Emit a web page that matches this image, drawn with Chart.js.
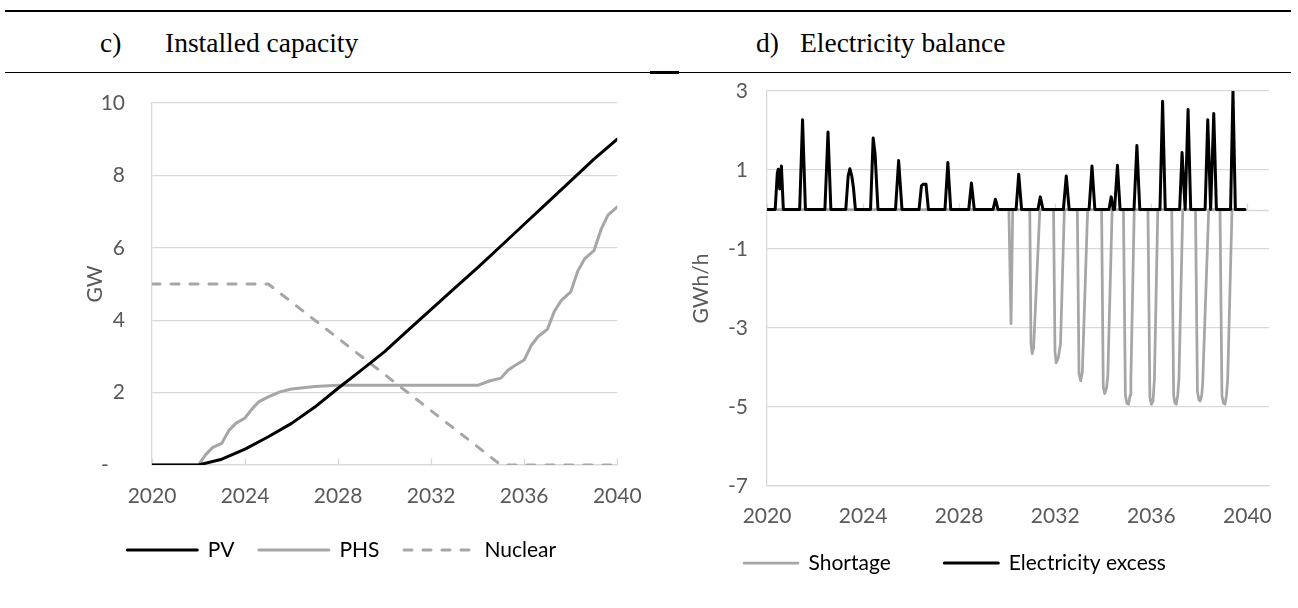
<!DOCTYPE html>
<html><head><meta charset="utf-8">
<script src="https://cdn.jsdelivr.net/npm/chart.js@4.4.1/dist/chart.umd.min.js"></script>
<style>
html,body{margin:0;padding:0;background:#fff;}
body{width:1298px;height:608px;position:relative;overflow:hidden;}
.rule{position:absolute;background:#000;}
.ttl{position:absolute;font-family:"Liberation Serif","Times New Roman",serif;font-size:27.5px;line-height:30px;color:#000;white-space:pre;}
canvas{position:absolute;top:0;}
</style></head><body>
<div class="rule" style="left:5px;top:10px;width:1286px;height:2px"></div>
<div class="rule" style="left:5px;top:72px;width:1286px;height:1px"></div>
<div class="rule" style="left:650px;top:71px;width:29px;height:3px"></div>
<div class="ttl" style="left:100px;top:28px">c)</div>
<div class="ttl" style="left:165px;top:28px">Installed capacity</div>
<div class="ttl" style="left:756px;top:28px">d)</div>
<div class="ttl" style="left:800px;top:28px">Electricity balance</div>
<canvas id="cap" width="660" height="608" style="left:0"></canvas>
<canvas id="bal" width="638" height="608" style="left:660px"></canvas>
<script>
// ---------- data: c) Installed capacity (GW) ----------
const capTicksX = [2020, 2024, 2028, 2032, 2036, 2040];
const capTicksY = [0, 2, 4, 6, 8, 10];
const pvYears = [2020, 2022, 2023, 2024, 2025, 2026, 2027, 2028, 2029, 2030, 2031, 2032, 2033, 2034, 2035, 2036, 2037, 2038, 2039, 2040];
const pvGW    = [0, 0, 0.16, 0.44, 0.78, 1.15, 1.6, 2.12, 2.62, 3.13, 3.72, 4.3, 4.88, 5.45, 6.05, 6.65, 7.25, 7.85, 8.45, 9.0];
const phsYears = [2020, 2022, 2022.3, 2022.6, 2023, 2023.3, 2023.6, 2024, 2024.3, 2024.6, 2025, 2025.5, 2026, 2027, 2028, 2034, 2034.5, 2035, 2035.3, 2035.6, 2036, 2036.3, 2036.6, 2037, 2037.3, 2037.6, 2038, 2038.3, 2038.6, 2039, 2039.3, 2039.6, 2040];
const phsGW    = [0, 0, 0.28, 0.48, 0.6, 0.95, 1.15, 1.3, 1.55, 1.75, 1.88, 2.02, 2.1, 2.17, 2.2, 2.2, 2.32, 2.4, 2.62, 2.75, 2.9, 3.3, 3.55, 3.75, 4.25, 4.55, 4.78, 5.35, 5.7, 5.92, 6.5, 6.9, 7.13];
const nucYears = [2020, 2025, 2035, 2040];
const nucGW    = [5, 5, 0, 0];

// ---------- data: d) Electricity balance (GWh/h) ----------
const balTicksX = [2020, 2024, 2028, 2032, 2036, 2040];
const balTicksY = [-7, -5, -3, -1, 1, 3];
const excessYears = [2020, 2020.34, 2020.43, 2020.47, 2020.53, 2020.6, 2020.68,
  2021.36, 2021.48, 2021.6,
  2022.41, 2022.54, 2022.66,
  2023.28, 2023.38, 2023.45, 2023.53, 2023.6, 2023.68,
  2024.31, 2024.42, 2024.5, 2024.62,
  2025.35, 2025.48, 2025.62,
  2026.33, 2026.43, 2026.5, 2026.62, 2026.72,
  2027.41, 2027.53, 2027.65,
  2028.4, 2028.51, 2028.63,
  2029.41, 2029.51, 2029.62,
  2030.37, 2030.48, 2030.6,
  2031.28, 2031.38, 2031.49,
  2032.34, 2032.46, 2032.58,
  2033.41, 2033.53, 2033.65,
  2034.24, 2034.33, 2034.42, 2034.47, 2034.59, 2034.7,
  2035.28, 2035.4, 2035.52,
  2036.36, 2036.47, 2036.58,
  2037.18, 2037.28, 2037.41, 2037.53, 2037.64,
  2038.24, 2038.35, 2038.47, 2038.6, 2038.71,
  2039.3, 2039.4, 2039.5, 2039.9];
const excessGWh = [0, 0, 0.92, 1.02, 0.52, 1.1, 0,
  0, 2.27, 0,
  0, 1.96, 0,
  0, 0.85, 1.03, 0.85, 0.55, 0,
  0, 1.81, 1.4, 0,
  0, 1.24, 0,
  0, 0.6, 0.64, 0.64, 0,
  0, 1.19, 0,
  0, 0.67, 0,
  0, 0.26, 0,
  0, 0.89, 0,
  0, 0.32, 0,
  0, 0.85, 0,
  0, 1.1, 0,
  0, 0.32, 0, 0, 1.12, 0,
  0, 1.62, 0,
  0, 2.74, 0,
  0, 1.44, 0, 2.53, 0,
  0, 2.27, 0, 2.43, 0,
  0, 3.0, 0, 0];
const shortYears = [2020,
  2030.07, 2030.16, 2030.23,
  2030.94, 2030.99, 2031.04, 2031.1, 2031.36,
  2031.93, 2031.99, 2032.04, 2032.13, 2032.22, 2032.38,
  2032.92, 2032.99, 2033.06, 2033.13, 2033.35,
  2033.93, 2034.0, 2034.06, 2034.14, 2034.19, 2034.37,
  2034.84, 2034.92, 2034.98, 2035.05, 2035.12, 2035.15, 2035.29,
  2035.86, 2035.94, 2036.0, 2036.07, 2036.13, 2036.27,
  2036.85, 2036.93, 2036.98, 2037.04, 2037.1, 2037.15, 2037.31,
  2037.84, 2037.92, 2037.98, 2038.03, 2038.1, 2038.14, 2038.39,
  2038.86, 2038.94, 2039.0, 2039.07, 2039.13, 2039.18, 2039.36,
  2039.9];
const shortGWh = [0,
  0, -2.89, 0,
  0, -3.4, -3.65, -3.5, 0,
  0, -3.6, -3.88, -3.75, -3.4, 0,
  0, -4.15, -4.34, -4.1, 0,
  0, -4.5, -4.66, -4.5, -4.2, 0,
  0, -4.7, -4.9, -4.93, -4.7, -4.3, 0,
  0, -4.75, -4.93, -4.85, -4.3, 0,
  0, -4.7, -4.9, -4.93, -4.7, -4.3, 0,
  0, -4.6, -4.82, -4.85, -4.7, -4.4, 0,
  0, -4.7, -4.9, -4.93, -4.7, -4.3, 0,
  0];

// ---------- styling ----------
const FONT = 'Lato, "Open Sans", sans-serif';
const TXT = '#595959';
const GRID = '#d9d9d9';
Chart.defaults.font.family = FONT;

function pts(xs, ys) { return xs.map((x, i) => ({ x: x, y: ys[i] })); }
function setTicks(list) { return s => { s.ticks = list.map(v => ({ value: v })); }; }
function lineLegend(chart) {
  return chart.data.datasets.map((d, i) => ({
    text: d.label, datasetIndex: i, hidden: false,
    strokeStyle: d.borderColor, fillStyle: d.borderColor,
    lineWidth: d.borderWidth, lineDash: d.borderDash || [], lineCap: 'round',
    pointStyle: 'line'
  }));
}

// small upward tick marks on the category axis and optional zero line
const axisExtras = {
  id: 'axisExtras',
  beforeDatasetsDraw(chart, args, opts) {
    const { ctx, chartArea, scales } = chart;
    const x = scales.x, y = scales.y;
    const y0 = Math.round(y.getPixelForValue(0)) + 0.5;
    ctx.save();
    ctx.strokeStyle = opts.color;
    ctx.lineWidth = 1.3;
    ctx.beginPath();
    if (opts.zeroLine) { ctx.moveTo(chartArea.left, y0); ctx.lineTo(chartArea.right, y0); }
    x.ticks.forEach(t => {
      const px = Math.round(x.getPixelForValue(t.value)) + 0.5;
      ctx.moveTo(px, y0); ctx.lineTo(px, y0 - opts.tickLen);
    });
    ctx.stroke();
    ctx.restore();
  }
};

const common = {
  responsive: false, animation: false, devicePixelRatio: 1,
  elements: { point: { radius: 0 }, line: { tension: 0, borderJoinStyle: 'round', borderCapStyle: 'round', fill: false } },
};

new Chart(document.getElementById('cap'), {
  type: 'line',
  data: { datasets: [
    { label: 'PV', data: pts(pvYears, pvGW), borderColor: '#000000', borderWidth: 3 },
    { label: 'PHS', data: pts(phsYears, phsGW), borderColor: '#a6a6a6', borderWidth: 3 },
    { label: 'Nuclear', data: pts(nucYears, nucGW), borderColor: '#a6a6a6', borderWidth: 3, borderDash: [8, 11] }
  ] },
  options: Object.assign({}, common, {
    layout: { padding: { left: 63.5, right: 40, top: 103, bottom: 37.5 } },
    plugins: {
      legend: { position: 'bottom', align: 'center',
        labels: { usePointStyle: true, pointStyle: 'line', pointStyleWidth: 70, boxWidth: 70, padding: 24.5, color: TXT, font: { family: FONT, size: 21 }, generateLabels: lineLegend } },
      tooltip: { enabled: false },
      axisExtras: { tickLen: 7, color: GRID, zeroLine: false }
    },
    scales: {
      x: { type: 'linear', min: 2020, max: 2040,
        afterBuildTicks: setTicks(capTicksX), afterFit: s => { s.height = 50; },
        grid: { display: false, drawTicks: false }, border: { display: true, color: GRID, width: 1.3 },
        ticks: { padding: 18.4, color: TXT, font: { family: FONT, size: 21 }, maxRotation: 0, autoSkip: false, callback: v => String(v) } },
      y: { type: 'linear', min: 0, max: 10,
        afterBuildTicks: setTicks(capTicksY), afterFit: s => { s.width = 88.5; },
        grid: { color: GRID, lineWidth: 1.3, drawTicks: false }, border: { display: true, color: GRID, width: 1.3 },
        ticks: { padding: 27, color: TXT, font: { family: FONT, size: 21 }, callback: v => (v === 0 ? '-   ' : String(v)) },
        title: { display: true, text: 'GW', color: TXT, font: { family: FONT, size: 21 }, padding: { top: 19, bottom: 0 } } }
    }
  }),
  plugins: [axisExtras]
});

new Chart(document.getElementById('bal'), {
  type: 'line',
  data: { datasets: [
    { label: 'Shortage', data: pts(shortYears, shortGWh), borderColor: '#a6a6a6', borderWidth: 2.75, order: 2 },
    { label: 'Electricity excess', data: pts(excessYears, excessGWh), borderColor: '#000000', borderWidth: 3, order: 1 }
  ] },
  options: Object.assign({}, common, {
    layout: { padding: { left: 30.5, right: 29, top: 91, bottom: 24.5 } },
    plugins: {
      legend: { position: 'bottom', align: 'start',
        labels: { usePointStyle: true, pointStyle: 'line', pointStyleWidth: 54, boxWidth: 54, padding: 53.5, color: TXT, font: { family: FONT, size: 21 }, generateLabels: lineLegend } },
      tooltip: { enabled: false },
      axisExtras: { tickLen: 7, color: GRID, zeroLine: true }
    },
    scales: {
      x: { type: 'linear', min: 2020, max: 2040.9,
        afterBuildTicks: setTicks(balTicksX), afterFit: s => { s.height = 13; },
        grid: { display: false, drawTicks: false }, border: { display: true, color: GRID, width: 1.3 },
        ticks: { display: true, mirror: true, padding: -42.6, color: TXT, font: { family: FONT, size: 21 }, maxRotation: 0, autoSkip: false, callback: v => String(v) } },
      y: { type: 'linear', min: -7, max: 3,
        afterBuildTicks: setTicks(balTicksY), afterFit: s => { s.width = 76.5; },
        grid: { color: GRID, lineWidth: 1.3, drawTicks: false }, border: { display: true, color: GRID, width: 1.3 },
        ticks: { padding: 19, color: TXT, font: { family: FONT, size: 21 }, callback: v => String(v) },
        title: { display: true, text: 'GWh/h', color: TXT, font: { family: FONT, size: 21, lineHeight: 1 }, padding: { top: 0, bottom: 0 } } }
    }
  }),
  plugins: [axisExtras]
});
</script>
</body></html>
